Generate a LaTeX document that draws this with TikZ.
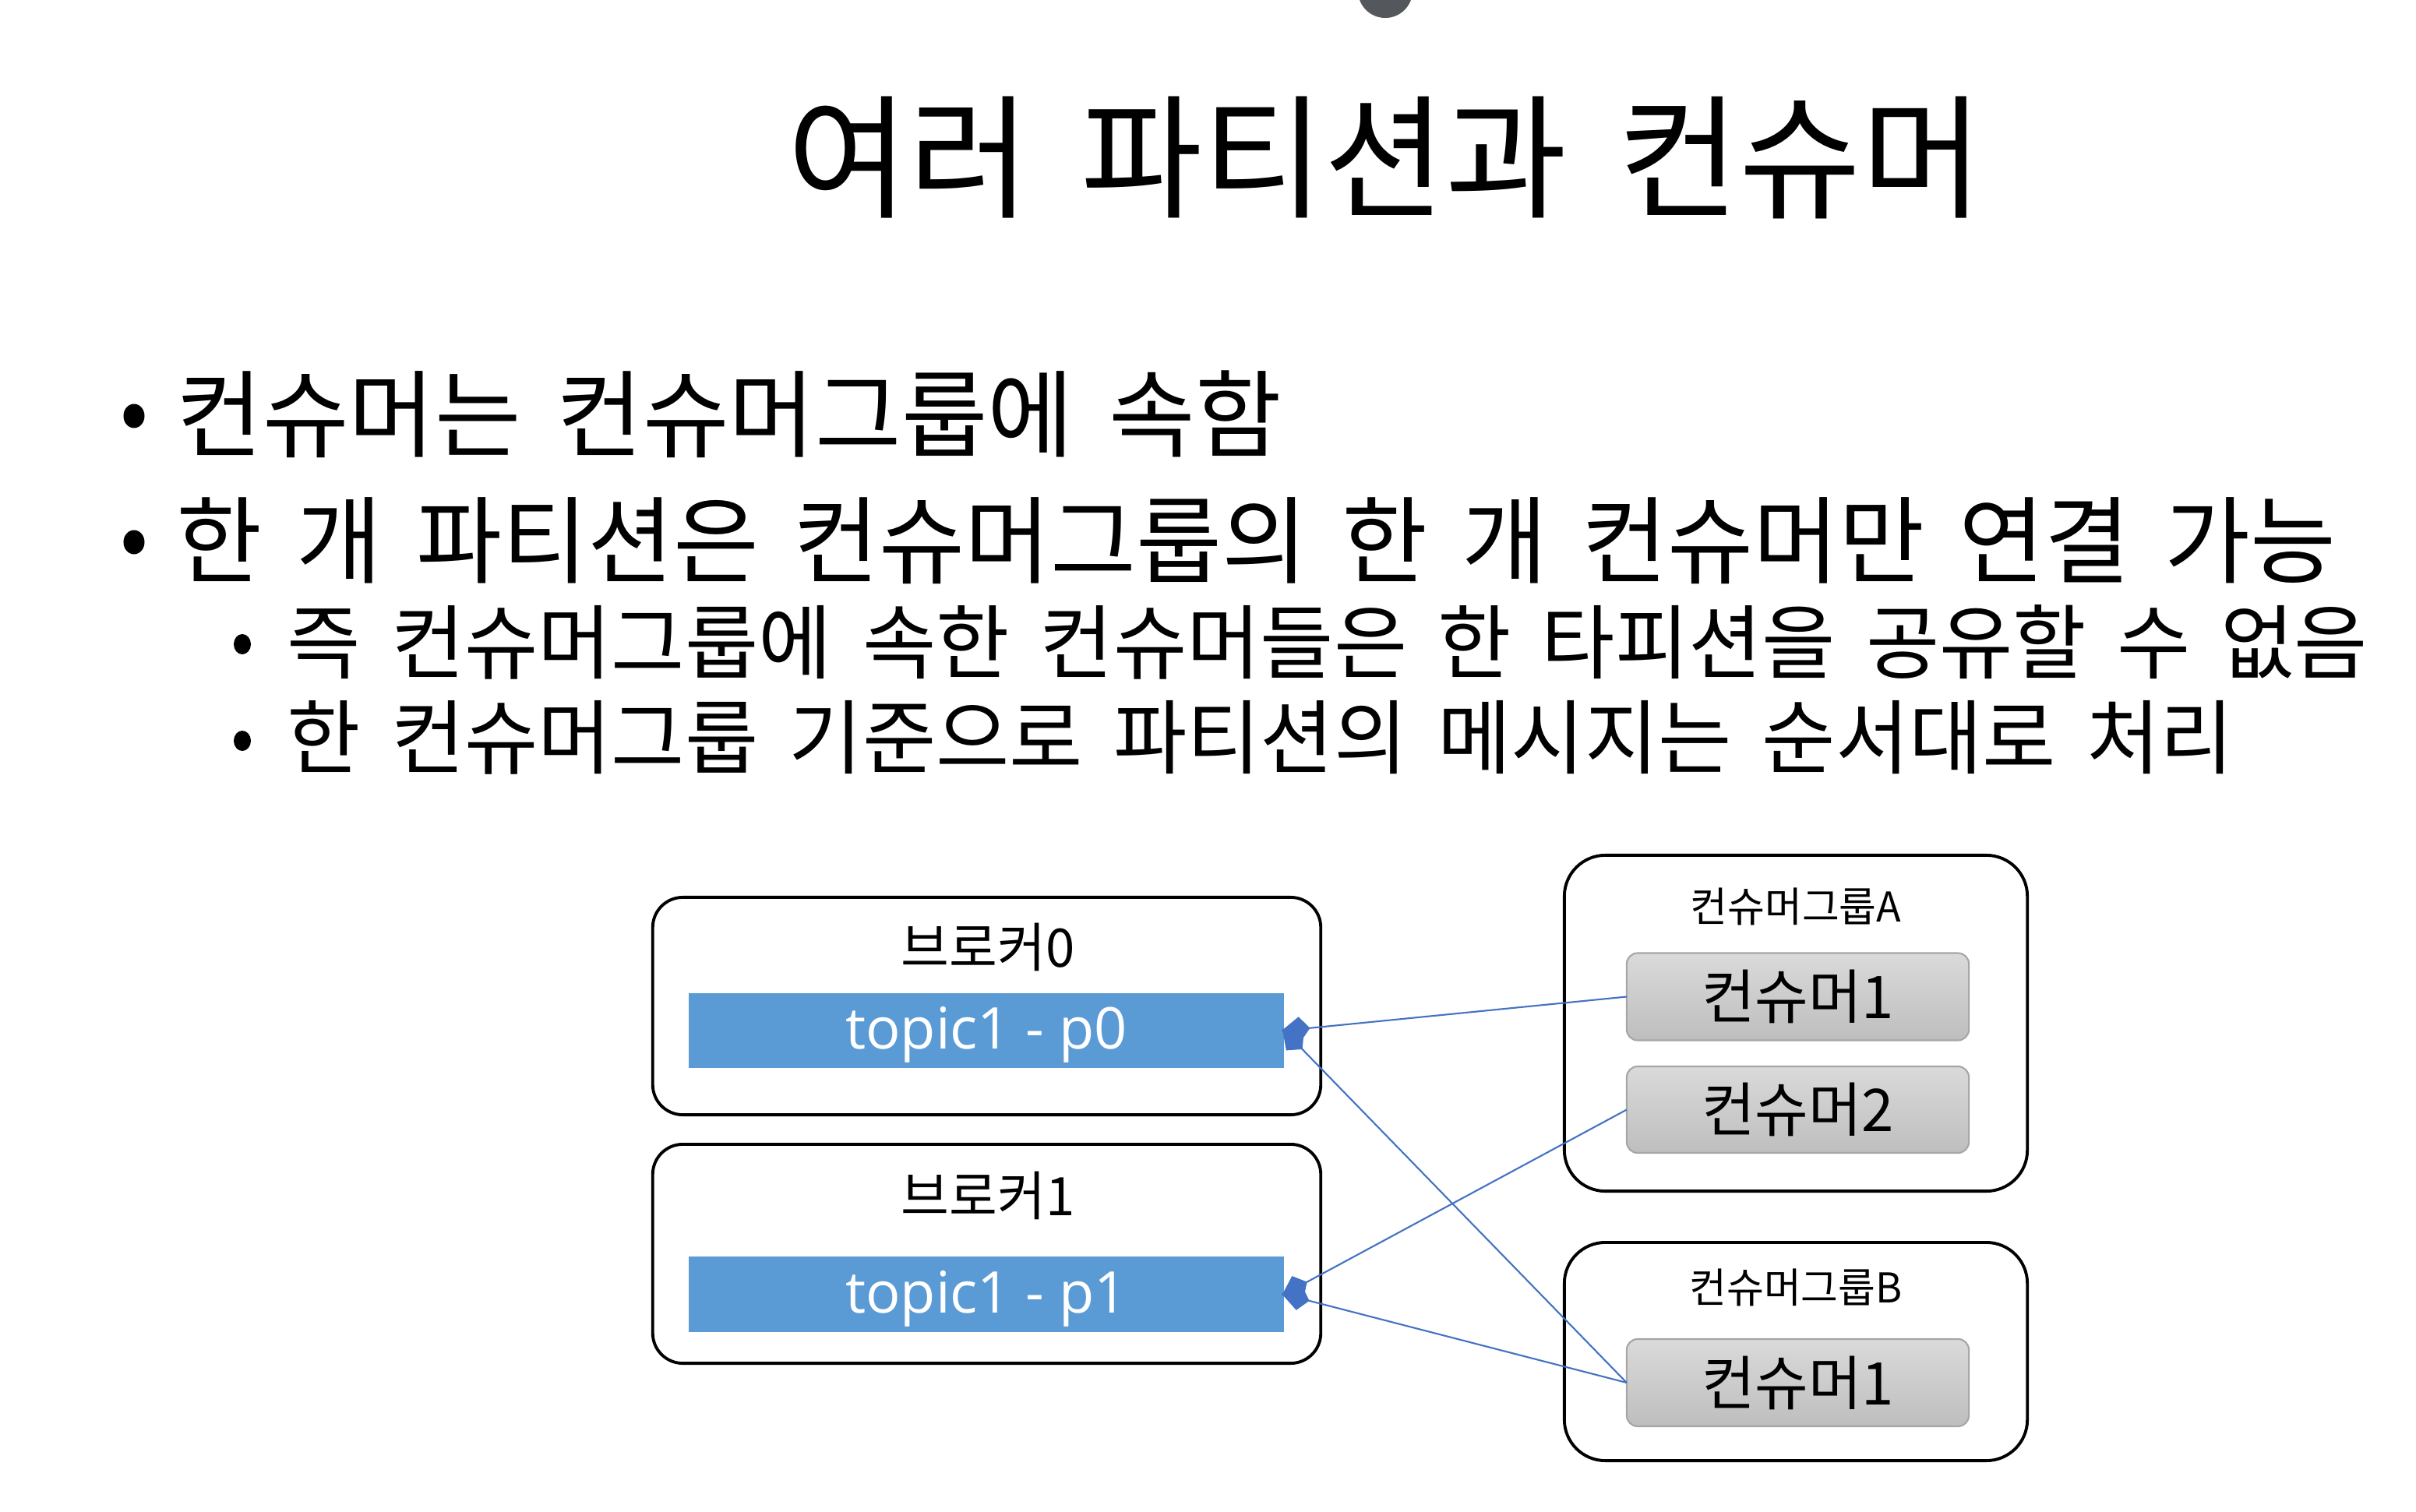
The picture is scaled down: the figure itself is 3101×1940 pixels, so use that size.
\documentclass[tikz,border=0pt]{standalone}
\usepackage{fontspec}
\usetikzlibrary{arrows.meta}
\newfontfamily\kr{Noto Sans CJK KR}[FakeStretch=0.985,WordSpace=1.7]
\newfontfamily\krn{Noto Sans CJK KR}[FakeStretch=0.98,WordSpace=1.64]
\newfontfamily\latf{Open Sans}
\definecolor{arrowblue}{HTML}{4472C4}
\definecolor{topicblue}{HTML}{5B9BD5}
\definecolor{dotgray}{HTML}{54575C}
\definecolor{consborder}{HTML}{A6A6A6}
\definecolor{constop}{HTML}{DADADA}
\definecolor{consbot}{HTML}{BEBEBE}
\tikzset{
  brokerbox/.style={draw=black, line width=1.1pt, rounded corners=11pt, inner sep=0pt, outer sep=0pt, minimum width=8.57cm},
  groupbox/.style={draw=black, line width=1.1pt, rounded corners=15pt, inner sep=0pt, outer sep=0pt, minimum width=5.94cm},
  topicbox/.style={fill=topicblue, text=white, inner sep=0pt, outer sep=0pt, minimum width=7.64cm, minimum height=0.965cm, text height=16.8pt, text depth=3.2pt, font=\latf\fontsize{21}{25}\selectfont},
  consbox/.style={draw=consborder, line width=0.6pt, rounded corners=4pt, top color=constop, bottom color=consbot, inner sep=0pt, outer sep=0pt, minimum width=4.39cm, minimum height=1.12cm, font=\kr\fontsize{21.5}{26}\selectfont},
  grouplabel/.style={inner sep=0pt, font=\kr\fontsize{15}{18}\selectfont},
  brokerlabel/.style={inner sep=0pt, font=\kr\fontsize{19.4}{23}\selectfont},
  titletext/.style={inner sep=0pt, font=\kr\fontsize{49}{59}\selectfont},
  maintext/.style={inner sep=0pt, anchor=west, font=\kr\fontsize{34.7}{42}\selectfont},
  subtext/.style={inner sep=0pt, anchor=west, font=\kr\fontsize{29.6}{36}\selectfont},
  conn/.style={draw=arrowblue, line width=0.6pt, shorten >=-1pt, -{Kite[length=10.5pt,width=9pt,inset=3.8pt]}}
}
\begin{document}
\begin{tikzpicture}[x=0.01cm,y=-0.01cm]
\useasboundingbox (0,0) rectangle (3101,1940);
\fill[white] (0,0) rectangle (3101,1940);
% top dot
\fill[dotgray] (1778,-12) circle[radius=3.5mm];
% title
\node[titletext] (title) at (1778,202) {여러 파티션과 컨슈머};
% bullets
\fill (172,534) ellipse[x radius=1.35mm, y radius=1.55mm];
\node[maintext] (b1) at (226,532) {컨슈머는 컨슈머그룹에 속함};
\fill (172,696) ellipse[x radius=1.35mm, y radius=1.55mm];
\node[maintext, font=\krn\fontsize{34.7}{42}\selectfont] (b2) at (226,694) {한 개 파티션은 컨슈머그룹의 한 개 컨슈머만 연결 가능};
\fill (311,827) ellipse[x radius=1.1mm, y radius=1.3mm];
\node[subtext] (s1) at (368,824) {즉 컨슈머그룹에 속한 컨슈머들은 한 타피션을 공유할 수 없음};
\fill (311,951) ellipse[x radius=1.1mm, y radius=1.3mm];
\node[subtext] (s2) at (368,947) {한 컨슈머그룹 기준으로 파티션의 메시지는 순서대로 처리};
% brokers
\node[brokerbox, minimum height=2.79cm] (br0) at (1266.5,1291.5) {};
\node[brokerbox, minimum height=2.81cm] (br1) at (1266.5,1609.5) {};
\node[brokerlabel] (br0l) at (1268,1216) {브로커0};
\node[brokerlabel] (br1l) at (1268,1535) {브로커1};
\node[topicbox] (p0) at (1266,1323) {topic1 - p0};
\node[topicbox] (p1) at (1266,1661.5) {topic1 - p1};
% consumer groups
\node[groupbox, minimum height=4.31cm] (ga) at (2305,1313.5) {};
\node[groupbox, minimum height=2.80cm] (gb) at (2305,1735) {};
\node[grouplabel] (gal) at (2305,1164) {컨슈머그룹A};
\node[grouplabel] (gbl) at (2305,1653) {컨슈머그룹B};
\node[consbox] (a1) at (2307.5,1279.5) {컨슈머1};
\node[consbox, minimum height=1.11cm] (a2) at (2307.5,1424.5) {컨슈머2};
\node[consbox] (b1c) at (2307.5,1775) {컨슈머1};
% connectors
\draw[conn] (a1.west) -- (p0.east);
\draw[conn] (a2.west) -- (p1.east);
\draw[conn] (b1c.west) -- (p0.east);
\draw[conn] (b1c.west) -- (p1.east);
\end{tikzpicture}
\end{document}
